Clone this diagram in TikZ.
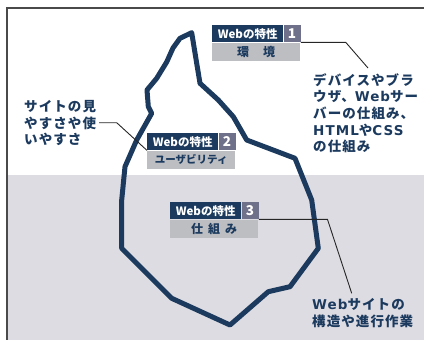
\documentclass[tikz,border=0pt]{standalone}
\usepackage{fontspec}
\newfontfamily\jpfont{Noto Sans CJK JP}
\newfontfamily\jpnotefont{Noto Sans CJK JP}[LetterSpace=8]
\newfontfamily\latfont{DejaVu Sans}[LetterSpace=8]
\newcommand\lat[1]{{\latfont #1}}
\usetikzlibrary{positioning}
\definecolor{navy}{HTML}{1B3A5E}
\definecolor{numgray}{HTML}{6F7089}
\definecolor{subgray}{HTML}{BDBEC2}
\definecolor{seagray}{HTML}{DDDCE2}
\definecolor{framegray}{HTML}{4A4A4A}

\tikzset{
  headbox/.style={fill=navy, text=white, minimum width=71pt, minimum height=17pt, inner sep=0pt,
    font=\jpfont\bfseries\fontsize{11.5}{11.5}\selectfont},
  numbox/.style={fill=numgray, text=white, minimum width=17pt, minimum height=17pt, inner sep=0pt,
    font=\jpfont\bfseries\fontsize{13.5}{13.5}\selectfont},
  subbox/.style={fill=subgray, text=navy, minimum width=88pt, minimum height=18.5pt, inner sep=0pt,
    font=\jpfont\bfseries\fontsize{12}{12}\selectfont},
  note/.style={text=navy, align=left, inner sep=0pt, anchor=north west,
    font=\jpnotefont\bfseries\fontsize{13.5}{16.7}\selectfont},
  leader/.style={draw=black!85, line width=0.9pt}
}

\begin{document}
\begin{tikzpicture}[x=1pt, y=-1pt]
  \useasboundingbox (0,0) rectangle (424,340);
  % frame and sea
  \fill[seagray] (7,175) rectangle (424,340);
  \draw[framegray, line width=1.6pt] (7,340) -- (7,8) -- (424,8);

  % iceberg
  \draw[navy, line width=5pt, line join=round]
    (191.7,32.7) -- (180,38.3) -- (173,48) -- (166.7,62) -- (156.7,78.3) -- (147,90)
    -- (148.3,106.7) -- (151.7,113.3) -- (136.7,140) -- (125,166.7) -- (121.7,200)
    -- (121.7,248.3) -- (171.7,298.3) -- (230,325) -- (268.3,291.7) -- (290,286.7)
    -- (318.3,248.3) -- (311.7,200) -- (295,158.3) -- (246.7,140) -- (233.3,116.7)
    -- (218.3,100) -- (200,83.3) -- (196.7,63.3) -- cycle;

  % notes
  \node[note] (c1) at (313,73) {デバイスやブラ\\ウザ、\lat{Web}サー\\バーの仕組み、\\\lat{HTML}や\lat{CSS}\\の仕組み};
  \node[note] (c2) at (24,100) {サイトの見\\やすさや使\\いやすさ};
  \node[note] (c3) at (312,298) {\lat{Web}サイトの\\構造や進行作業};
  \coordinate (e1) at (368,68);
  \coordinate (e2) at (99,122.7);
  \coordinate (e3) at (351.7,293.3);

  % Webの特性 1
  \node[headbox, anchor=north west] (h1) at (212,25) {Webの特性};
  \node[numbox, right=0pt of h1] (n1) {1};
  \node[subbox, anchor=north west] (s1) at (h1.south west) {環\hspace{14pt}境};
  % Webの特性 2
  \node[headbox, anchor=north west] (h2) at (147,133) {Webの特性};
  \node[numbox, right=0pt of h2] (n2) {2};
  \node[subbox, anchor=north west, font=\jpfont\bfseries\fontsize{10.5}{10.5}\selectfont] (s2) at (h2.south west) {ユーザビリティ};
  % Webの特性 3
  \node[headbox, anchor=north west] (h3) at (170,202) {Webの特性};
  \node[numbox, right=0pt of h3] (n3) {3};
  \node[subbox, anchor=north west] (s3) at (h3.south west) {仕\hspace{5pt}組\hspace{5pt}み};

  % leaders
  \draw[leader] (n1.south east) -- ++(45,0) -- (e1);
  \draw[leader] (h2.south west) -- (116.7,122.7) -- (e2);
  \draw[leader] (n3.south east) -- ++(68.7,0) -- (e3);
\end{tikzpicture}
\end{document}
